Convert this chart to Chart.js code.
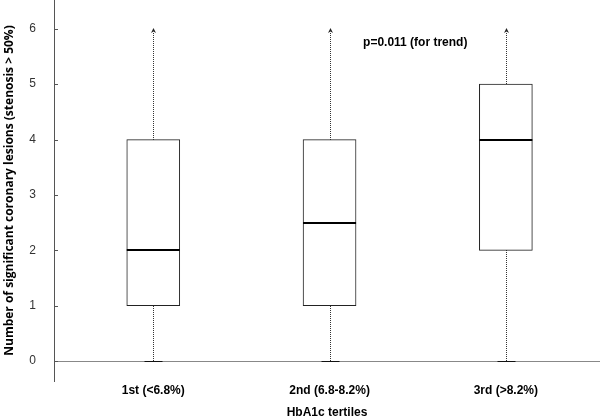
<!DOCTYPE html>
<html>
<head>
<meta charset="utf-8">
<script src="https://cdn.jsdelivr.net/npm/chart.js@4/dist/chart.umd.min.js"></script>
<style>
  html, body { margin: 0; padding: 0; background: #fff; }
  #wrap { width: 600px; height: 420px; }
</style>
</head>
<body>
<div id="wrap"><canvas id="myChart"></canvas></div>
<script>
// box plot values
const categories = ['1st (<6.8%)', '2nd (6.8-8.2%)', '3rd (>8.2%)'];
const lowerQuartile = [1, 1, 2];
const upperQuartile = [4, 4, 5];
const medians = [2, 2.5, 4];
const whiskerLow = [0, 0, 0];
const whiskerHigh = [6, 6, 6];
const yTickValues = [0, 1, 2, 3, 4, 5, 6];
const trendLabel = 'p=0.011 (for trend)';

const boxData = categories.map((c, i) => ({ x: i + 1, y: [lowerQuartile[i], upperQuartile[i]] }));

const boxExtras = {
  id: 'boxExtras',
  beforeDatasetsDraw(chart) {
    const ctx = chart.ctx;
    const xs = chart.scales.x, ys = chart.scales.y;
    const area = chart.chartArea;
    ctx.save();
    // zero line
    ctx.strokeStyle = '#888';
    ctx.lineWidth = 1;
    const y0 = Math.round(ys.getPixelForValue(0)) + 0.5;
    ctx.beginPath();
    ctx.moveTo(area.left, y0);
    ctx.lineTo(area.right, y0);
    ctx.stroke();
    // y tick marks (inside)
    ctx.strokeStyle = '#555';
    yTickValues.forEach(v => {
      const y = Math.round(ys.getPixelForValue(v)) + 0.5;
      ctx.beginPath();
      ctx.moveTo(area.left, y);
      ctx.lineTo(area.left + 4, y);
      ctx.stroke();
    });
    // whiskers
    categories.forEach((c, i) => {
      const x = Math.round(xs.getPixelForValue(i + 1)) + 0.5;
      const yLo = Math.round(ys.getPixelForValue(whiskerLow[i]));
      const yHi = Math.round(ys.getPixelForValue(whiskerHigh[i]));
      const yQ1 = Math.round(ys.getPixelForValue(lowerQuartile[i]));
      const yQ3 = Math.round(ys.getPixelForValue(upperQuartile[i]));
      ctx.strokeStyle = '#333';
      ctx.setLineDash([1, 1]);
      ctx.beginPath();
      ctx.moveTo(x, yQ1);
      ctx.lineTo(x, yLo);
      ctx.moveTo(x, yQ3);
      ctx.lineTo(x, yHi + 3);
      ctx.stroke();
      ctx.setLineDash([]);
      // arrow head at top
      ctx.fillStyle = '#222';
      ctx.beginPath();
      ctx.moveTo(x - 2.5, yHi + 4);
      ctx.lineTo(x, yHi - 1);
      ctx.lineTo(x + 2.5, yHi + 4);
      ctx.lineTo(x, yHi + 2.5);
      ctx.closePath();
      ctx.fill();
      // cap at bottom
      ctx.strokeStyle = '#111';
      ctx.beginPath();
      ctx.moveTo(x - 9, yLo + 0.5);
      ctx.lineTo(x + 9, yLo + 0.5);
      ctx.stroke();
    });
    ctx.restore();
  },
  afterDatasetsDraw(chart) {
    const ctx = chart.ctx;
    const xs = chart.scales.x, ys = chart.scales.y;
    ctx.save();
    // medians
    ctx.strokeStyle = '#000';
    ctx.lineWidth = 2;
    categories.forEach((c, i) => {
      const x = xs.getPixelForValue(i + 1);
      const y = Math.round(ys.getPixelForValue(medians[i]));
      ctx.beginPath();
      ctx.moveTo(x - 26.5, y);
      ctx.lineTo(x + 26.5, y);
      ctx.stroke();
    });
    // trend note
    ctx.fillStyle = '#000';
    ctx.font = 'bold 12px "Liberation Sans", Arial, sans-serif';
    ctx.textAlign = 'left';
    ctx.textBaseline = 'middle';
    ctx.fillText(trendLabel, xs.getPixelForValue(2.19), ys.getPixelForValue(5.75));
    ctx.restore();
  }
};

Chart.defaults.font.family = '"Liberation Sans", Arial, sans-serif';
Chart.defaults.color = '#000';

function noPad(s) {
  s.paddingTop = 0;
  s.paddingBottom = 0;
  s.paddingLeft = 0;
  s.paddingRight = 0;
}

new Chart(document.getElementById('myChart'), {
  type: 'bar',
  data: {
    datasets: [{
      data: boxData,
      backgroundColor: '#fff',
      borderColor: '#222',
      borderWidth: 1,
      borderSkipped: false,
      barThickness: 53
    }]
  },
  options: {
    responsive: true,
    maintainAspectRatio: false,
    animation: false,
    layout: { padding: 0, autoPadding: false },
    plugins: { legend: { display: false }, tooltip: { enabled: false } },
    scales: {
      x: {
        type: 'linear',
        offset: false,
        min: 0.437,
        max: 3.534,
        afterBuildTicks: s => { s.ticks = categories.map((c, i) => ({ value: i + 1 })); },
        afterFit: s => { s.height = 39; noPad(s); },
        grid: { display: false, drawTicks: false, offset: false },
        border: { display: false },
        ticks: {
          padding: 2,
          font: { size: 12, weight: 'bold' },
          callback: v => categories[v - 1]
        },
        title: {
          display: true,
          text: 'HbA1c tertiles',
          font: { size: 12, weight: 'bold' },
          padding: { top: 0, bottom: 0 }
        }
      },
      y: {
        min: -0.36,
        max: 6.52,
        afterBuildTicks: s => { s.ticks = yTickValues.map(v => ({ value: v })); },
        afterFit: s => { s.width = 54; noPad(s); },
        grid: { display: false, drawTicks: false },
        border: { display: true, color: '#555', width: 1 },
        ticks: { padding: 18, font: { size: 12 }, color: '#333' },
        title: {
          display: true,
          text: 'Number of significant coronary lesions (stenosis > 50%)',
          font: { family: '"Open Sans", "Noto Sans", sans-serif', size: 12, weight: 'bold' },
          padding: { top: 2, bottom: 0 }
        }
      }
    }
  },
  plugins: [boxExtras]
});
</script>
</body>
</html>
